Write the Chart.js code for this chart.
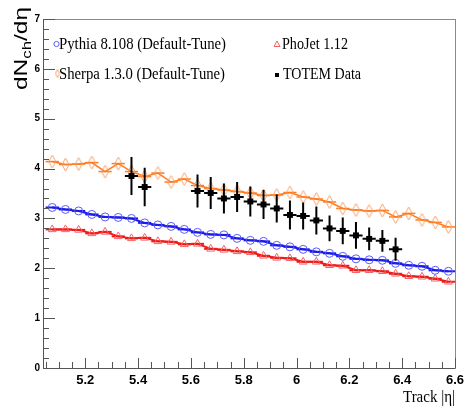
<!DOCTYPE html>
<html>
<head>
<meta charset="utf-8">
<script src="https://cdn.jsdelivr.net/npm/chart.js@4.4.1/dist/chart.umd.min.js"></script>
<style>
  html, body { margin: 0; padding: 0; background: #fff; }
  #wrap { width: 474px; height: 409px; }
</style>
</head>
<body>
<div id="wrap"><canvas id="c" width="474" height="409"></canvas></div>
<script>
// ---- data ----
const ETA = [5.075, 5.125, 5.175, 5.225, 5.275, 5.325, 5.375, 5.425, 5.475, 5.525,
             5.575, 5.625, 5.675, 5.725, 5.775, 5.825, 5.875, 5.925, 5.975, 6.025,
             6.075, 6.125, 6.175, 6.225, 6.275, 6.325, 6.375, 6.425, 6.475, 6.525, 6.575];

const PYTHIA = [3.22, 3.18, 3.15, 3.08, 3.03, 3.02, 3.00, 2.91, 2.87, 2.84,
                2.78, 2.72, 2.68, 2.67, 2.60, 2.56, 2.54, 2.46, 2.43, 2.38,
                2.33, 2.30, 2.24, 2.19, 2.17, 2.16, 2.10, 2.06, 2.04, 1.96, 1.94];

const PHOJET = [2.78, 2.78, 2.77, 2.70, 2.73, 2.64, 2.60, 2.61, 2.54, 2.53,
                2.48, 2.49, 2.39, 2.37, 2.34, 2.32, 2.25, 2.21, 2.20, 2.13,
                2.13, 2.06, 2.05, 1.96, 1.96, 1.94, 1.89, 1.84, 1.83, 1.79, 1.73];

const SHERPA = [4.14, 4.08, 4.09, 4.12, 3.94, 4.10, 3.94, 3.84, 3.91, 3.73,
                3.79, 3.66, 3.60, 3.57, 3.54, 3.51, 3.46, 3.47, 3.52, 3.43,
                3.39, 3.33, 3.20, 3.17, 3.15, 3.16, 3.03, 3.10, 2.97, 2.92, 2.83];

const TOTEM_ETA = [5.375, 5.425, 5.625, 5.675, 5.725, 5.775, 5.825, 5.875, 5.925,
                   5.975, 6.025, 6.075, 6.125, 6.175, 6.225, 6.275, 6.325, 6.375];
const TOTEM_VAL = [3.85, 3.63, 3.55, 3.51, 3.40, 3.43, 3.34, 3.28, 3.20,
                   3.07, 3.05, 2.96, 2.80, 2.75, 2.66, 2.59, 2.55, 2.38];
const TOTEM_ERR = [0.38, 0.385, 0.33, 0.32, 0.30, 0.30, 0.30, 0.29, 0.28,
                   0.29, 0.27, 0.28, 0.26, 0.27, 0.27, 0.23, 0.22, 0.23];

const BIN_HALF = 0.025;

const XTICKS = [5.2, 5.4, 5.6, 5.8, 6.0, 6.2, 6.4, 6.6];
const XTICK_LABELS = ['5.2', '5.4', '5.6', '5.8', '6', '6.2', '6.4', '6.6'];
const YTICKS = [0, 1, 2, 3, 4, 5, 6, 7];
const YTICK_LABELS = ['0', '1', '2', '3', '4', '5', '6', '7'];

// ---- helpers ----
function pts(xs, ys) { return xs.map((x, i) => ({ x, y: ys[i] })); }

function diamondImg(w, h, color) {
  const c = document.createElement('canvas');
  c.width = w + 2; c.height = h + 2;
  const g = c.getContext('2d');
  g.strokeStyle = color; g.lineWidth = 1;
  g.beginPath();
  g.moveTo(c.width / 2, 1);
  g.lineTo(c.width - 1, c.height / 2);
  g.lineTo(c.width / 2, c.height - 1);
  g.lineTo(1, c.height / 2);
  g.closePath();
  g.stroke();
  return c;
}

// draw text squeezed/stretched to a given width
function fitText(ctx, text, x, y, width, font, align) {
  ctx.save();
  ctx.font = font;
  const w = ctx.measureText(text).width;
  const sx = width / w;
  ctx.translate(align === 'right' ? x - width : x, y);
  ctx.scale(sx, 1);
  ctx.textAlign = 'left';
  ctx.textBaseline = 'alphabetic';
  ctx.fillText(text, 0, 0);
  ctx.restore();
}

const BLUE = '#1c1ce8', BLUE_M = '#5a5aff';
const RED = '#ee1b1b', RED_M = '#f26464';
const ORANGE = '#ff7a1e', ORANGE_M = '#f7a26a';

// ---- ROOT-like frame, ticks, legend, titles ----
const rootStyle = {
  id: 'rootStyle',
  beforeDatasetsDraw(chart) {
    const { ctx, scales: { x, y } } = chart;
    chart.data.datasets.forEach(ds => {
      if (!ds.binBar) return;
      ctx.save();
      ctx.strokeStyle = ds.borderColor;
      ctx.lineWidth = ds.borderWidth;
      ds.data.forEach(p => {
        const py = y.getPixelForValue(p.y);
        ctx.beginPath();
        ctx.moveTo(x.getPixelForValue(p.x - BIN_HALF), py);
        ctx.lineTo(x.getPixelForValue(p.x + BIN_HALF), py);
        ctx.stroke();
      });
      ctx.restore();
    });
  },
  afterDatasetsDraw(chart) {
    const { ctx, scales: { x, y } } = chart;
    ctx.save();
    ctx.strokeStyle = '#000';
    ctx.lineWidth = 2;
    TOTEM_ETA.forEach((e, i) => {
      const px = x.getPixelForValue(e), py = y.getPixelForValue(TOTEM_VAL[i]);
      ctx.beginPath();
      ctx.moveTo(x.getPixelForValue(e - BIN_HALF), py);
      ctx.lineTo(x.getPixelForValue(e + BIN_HALF), py);
      ctx.moveTo(px, y.getPixelForValue(TOTEM_VAL[i] - TOTEM_ERR[i]));
      ctx.lineTo(px, y.getPixelForValue(TOTEM_VAL[i] + TOTEM_ERR[i]));
      ctx.stroke();
    });
    ctx.restore();
  },
  afterDraw(chart) {
    const { ctx, chartArea: a, scales: { x, y } } = chart;
    ctx.save();
    // frame
    ctx.lineWidth = 1;
    ctx.strokeStyle = '#8a8a8a';
    ctx.strokeRect(a.left + 0.5, a.top + 0.5, a.right - a.left, a.bottom - a.top);
    ctx.strokeStyle = '#555';
    ctx.beginPath();
    ctx.moveTo(a.left + 0.5, a.top);
    ctx.lineTo(a.left + 0.5, a.bottom + 0.5);
    ctx.lineTo(a.right, a.bottom + 0.5);
    ctx.stroke();

    // y ticks (every 0.2, major every 1)
    ctx.beginPath();
    for (let k = 0; k <= 35; k++) {
      const py = Math.round(y.getPixelForValue(k / 5)) + 0.5;
      const len = k % 5 === 0 ? 12 : 6;
      ctx.moveTo(a.left, py);
      ctx.lineTo(a.left + len, py);
    }
    // x ticks (every 0.05, major every 0.2)
    for (let k = 101; k <= 132; k++) {
      const px = Math.round(x.getPixelForValue(k / 20)) + 0.5;
      const len = k % 4 === 0 ? 10 : 6;
      ctx.moveTo(px, a.bottom);
      ctx.lineTo(px, a.bottom - len);
    }
    ctx.stroke();

    // legend
    ctx.fillStyle = '#000';
    const serif = '16px "Liberation Serif", "DejaVu Serif", serif';
    fitText(ctx, 'Pythia 8.108 (Default-Tune)', 59, 49, 167, serif);
    fitText(ctx, 'Sherpa 1.3.0 (Default-Tune)', 59, 79, 166, serif);
    fitText(ctx, 'PhoJet 1.12', 282, 49, 66, serif);
    fitText(ctx, 'TOTEM Data', 283, 79, 78, serif);

    ctx.lineWidth = 1;
    ctx.strokeStyle = BLUE_M;
    ctx.beginPath(); ctx.arc(56.5, 44, 2.6, 0, Math.PI * 2); ctx.stroke();
    ctx.strokeStyle = RED_M;
    ctx.beginPath(); ctx.moveTo(277, 41); ctx.lineTo(280, 46.5); ctx.lineTo(274, 46.5); ctx.closePath(); ctx.stroke();
    ctx.drawImage(diamondImg(4, 8, ORANGE_M), 54.5, 68.5);
    ctx.fillStyle = '#000';
    ctx.fillRect(275, 73, 4, 4);

    // x title
    fitText(ctx, 'Track |\u03b7|', 455, 402, 52, serif, 'right');

    // y title: dN_ch/dη rotated
    ctx.save();
    ctx.translate(27, 90);
    ctx.rotate(-Math.PI / 2);
    const big = '19px "Liberation Sans", Arial, sans-serif';
    const small = '13px "Liberation Sans", Arial, sans-serif';
    ctx.font = big; const w1 = ctx.measureText('dN').width;
    ctx.font = small; const w2 = ctx.measureText('ch').width;
    ctx.font = big; const w3 = ctx.measureText('/d\u03b7').width;
    ctx.scale(83 / (w1 + w2 + w3), 1);
    ctx.textBaseline = 'alphabetic';
    ctx.font = big; ctx.fillText('dN', 0, 0);
    ctx.font = small; ctx.fillText('ch', w1, 4);
    ctx.font = big; ctx.fillText('/d\u03b7', w1 + w2, 0);
    ctx.restore();

    ctx.restore();
  }
};

new Chart(document.getElementById('c'), {
  type: 'line',
  data: {
    datasets: [
      {
        label: 'TOTEM Data',
        data: pts(TOTEM_ETA, TOTEM_VAL),
        showLine: false,
        pointStyle: 'rect',
        pointRadius: 4.2,
        pointBackgroundColor: '#000',
        pointBorderColor: '#000',
        pointBorderWidth: 0,
        order: 0
      },
      {
        label: 'Pythia 8.108 (Default-Tune)',
        data: pts(ETA, PYTHIA),
        borderColor: BLUE,
        borderWidth: 2,
        pointStyle: 'circle',
        pointRadius: 4,
        pointBorderColor: BLUE_M,
        pointBackgroundColor: 'rgba(0,0,0,0)',
        pointBorderWidth: 1,
        binBar: true,
        order: 2
      },
      {
        label: 'PhoJet 1.12',
        data: pts(ETA, PHOJET),
        borderColor: RED,
        borderWidth: 2,
        pointStyle: 'triangle',
        pointRadius: 4.5,
        pointBorderColor: RED_M,
        pointBackgroundColor: 'rgba(0,0,0,0)',
        pointBorderWidth: 1,
        binBar: true,
        order: 3
      },
      {
        label: 'Sherpa 1.3.0 (Default-Tune)',
        data: pts(ETA, SHERPA),
        borderColor: ORANGE,
        borderWidth: 1.5,
        pointStyle: diamondImg(7, 13, ORANGE_M),
        pointRadius: 6,
        binBar: true,
        order: 1
      }
    ]
  },
  options: {
    responsive: false,
    devicePixelRatio: 1,
    animation: false,
    events: [],
    layout: { padding: { top: 19, right: 19, left: 0, bottom: 0 } },
    plugins: { legend: { display: false }, tooltip: { enabled: false } },
    scales: {
      x: {
        type: 'linear',
        min: 5.04,
        max: 6.6,
        afterBuildTicks: s => { s.ticks = XTICKS.map(v => ({ value: v })); },
        afterFit: s => { s.height = 41; },
        grid: { display: false, drawTicks: false },
        border: { display: false },
        ticks: {
          autoSkip: false,
          maxRotation: 0,
          padding: 5,
          color: '#000',
          font: { family: '"Liberation Sans", Arial, sans-serif', size: 13, weight: 'bold' },
          callback: (v, i) => XTICK_LABELS[i]
        }
      },
      y: {
        type: 'linear',
        min: 0,
        max: 7,
        afterBuildTicks: s => { s.ticks = YTICKS.map(v => ({ value: v })); },
        afterFit: s => { s.width = 43; },
        grid: { display: false, drawTicks: false },
        border: { display: false },
        ticks: {
          autoSkip: false,
          padding: 3,
          color: '#000',
          font: { family: '"Liberation Sans", Arial, sans-serif', size: 10, weight: 'bold' },
          callback: (v, i) => YTICK_LABELS[i]
        }
      }
    }
  },
  plugins: [rootStyle]
});
</script>
</body>
</html>
